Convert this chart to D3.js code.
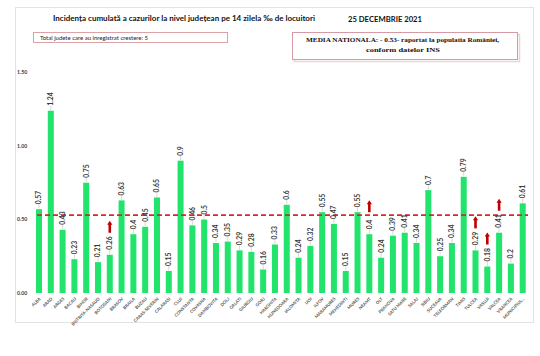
<!DOCTYPE html>
<html><head><meta charset="utf-8">
<script src="https://cdn.jsdelivr.net/npm/d3@7"></script>
<style>html,body{margin:0;padding:0;background:#fff;}svg{display:block;}</style>
</head><body>
<script>
const counties = ["ALBA","ARAD","ARGES","BACAU","BIHOR","BISTRITA-NASAUD","BOTOSANI","BRASOV","BRAILA","BUZAU","CARAS-SEVERIN","CALARASI","CLUJ","CONSTANTA","COVASNA","DAMBOVITA","DOLJ","GALATI","GIURGIU","GORJ","HARGHITA","HUNEDOARA","IALOMITA","IASI","ILFOV","MARAMURES","MEHEDINTI","MURES","NEAMT","OLT","PRAHOVA","SATU MARE","SALAJ","SIBIU","SUCEAVA","TELEORMAN","TIMIS","TULCEA","VASLUI","VALCEA","VRANCEA","MUNICIPIUL..."];
const values = [0.57,1.24,0.43,0.23,0.75,0.21,0.26,0.63,0.4,0.45,0.65,0.15,0.9,0.46,0.5,0.34,0.35,0.29,0.28,0.16,0.33,0.6,0.24,0.32,0.55,0.47,0.15,0.55,0.4,0.24,0.39,0.41,0.34,0.7,0.25,0.34,0.79,0.29,0.18,0.41,0.2,0.61];
const labels = ["0.57","1.24","0.43","0.23","0.75","0.21","0.26","0.63","0.4","0.45","0.65","0.15","0.9","0.46","0.5","0.34","0.35","0.29","0.28","0.16","0.33","0.6","0.24","0.32","0.55","0.47","0.15","0.55","0.4","0.24","0.39","0.41","0.34","0.7","0.25","0.34","0.79","0.29","0.18","0.41","0.2","0.61"];
const increased = ["BOTOSANI","NEAMT","TULCEA","VASLUI","VALCEA"];
const nationalAverage = 0.53;
const yTicks = [0, 0.5, 1.0, 1.5];
const title = "Incidența cumulată a cazurilor la nivel județean pe 14 zilela ‰ de locuitori";
const dateText = "25 DECEMBRIE 2021";
const boxLeftText = "Total judete care au inregistrat crestere: 5";
const boxRightLines = ["MEDIA NATIONALA:  - 0.53-  raportat la populatia României,", "conform datelor INS"];

const W = 540, H = 356;
const svg = d3.select("body").append("svg").attr("width", W).attr("height", H);
const font = "Lato, 'Open Sans', sans-serif";

// frame
svg.append("rect").attr("x", 15.5).attr("y", 7.5).attr("width", 518).attr("height", 315)
  .attr("fill", "#fff").attr("stroke", "#e3e3e3").attr("stroke-width", 1);

const x = d3.scaleBand().domain(counties).range([33.1, 528.6]).paddingInner(0.49).paddingOuter(0.245);
const y = d3.scaleLinear().domain([0, 1.5]).range([293, 72.5]);

// title
svg.append("text").attr("x", 53).attr("y", 21).attr("font-family", font).attr("font-weight", "bold")
  .attr("font-size", 8.2).attr("fill", "#111").attr("textLength", 262).attr("lengthAdjust", "spacingAndGlyphs").text(title);
svg.append("text").attr("x", 348).attr("y", 22).attr("font-family", font).attr("font-weight", "bold")
  .attr("font-size", 8.2).attr("fill", "#111").attr("textLength", 74).attr("lengthAdjust", "spacingAndGlyphs").text(dateText);

// left box
svg.append("rect").attr("x", 33.5).attr("y", 32.5).attr("width", 194).attr("height", 10)
  .attr("fill", "#fff").attr("stroke", "#d9a3a8").attr("stroke-width", 1);
svg.append("text").attr("x", 40).attr("y", 39.6).attr("font-family", font).attr("font-size", 5.2)
  .attr("fill", "#222").attr("textLength", 108).attr("lengthAdjust", "spacingAndGlyphs").text(boxLeftText);

// right box
svg.append("rect").attr("x", 294.5).attr("y", 34.5).attr("width", 225).attr("height", 27)
  .attr("fill", "none").attr("stroke", "#ecd3d6").attr("stroke-width", 1.5);
svg.append("rect").attr("x", 292.5).attr("y", 32.5).attr("width", 225).attr("height", 27)
  .attr("fill", "#fff").attr("stroke", "#d69aa2").attr("stroke-width", 1);
svg.append("text").attr("x", 306).attr("y", 41.5).attr("font-family", "'Liberation Serif', serif").attr("font-weight", "bold")
  .attr("font-size", 6.6).attr("fill", "#111").attr("textLength", 193).attr("lengthAdjust", "spacingAndGlyphs").text(boxRightLines[0]);
svg.append("text").attr("x", 366).attr("y", 51.5).attr("font-family", "'Liberation Serif', serif").attr("font-weight", "bold")
  .attr("font-size", 6.6).attr("fill", "#111").attr("textLength", 74).attr("lengthAdjust", "spacingAndGlyphs").text(boxRightLines[1]);

// y tick labels
svg.append("g").selectAll("text").data(yTicks).join("text")
  .attr("x", 17).attr("y", d => y(d)).attr("dy", "0.35em")
  .attr("font-family", font).attr("font-weight", "bold").attr("font-size", 5.2).attr("fill", "#404040")
  .text(d => d3.format(".2f")(d));

// bars
const data = counties.map((c, i) => ({c, v: values[i], l: labels[i]}));
svg.append("g").selectAll("rect").data(data).join("rect")
  .attr("x", d => x(d.c)).attr("width", x.bandwidth())
  .attr("y", d => y(d.v)).attr("height", d => y(0) - y(d.v))
  .attr("fill", "#22e46c");

// average dashed line
svg.append("line").attr("x1", 37).attr("x2", 528).attr("y1", y(nationalAverage)).attr("y2", y(nationalAverage))
  .attr("stroke", "#d42a2a").attr("stroke-width", 1.6).attr("stroke-dasharray", "5,3");

// leader lines
const gap = 5;
svg.append("g").selectAll("line").data(data).join("line")
  .attr("x1", d => x(d.c) + x.bandwidth() / 2).attr("x2", d => x(d.c) + x.bandwidth() / 2)
  .attr("y1", d => y(d.v) - 0.5).attr("y2", d => y(d.v) - gap)
  .attr("stroke", "#b0b0b0").attr("stroke-width", 0.5);

// value labels
svg.append("g").selectAll("text").data(data).join("text")
  .attr("transform", d => `translate(${x(d.c) + x.bandwidth() / 2},${y(d.v) - gap}) rotate(-90)`)
  .attr("dy", "0.35em").attr("text-anchor", "start")
  .attr("font-family", font).attr("font-weight", "bold").attr("font-size", 6.8).attr("fill", "#3a3a3a")
  .text(d => d.l);

// arrows
const arrowG = svg.append("g");
data.filter(d => increased.includes(d.c)).forEach(d => {
  const cx = x(d.c) + x.bandwidth() / 2;
  const bottom = y(d.v) - 22;
  const top = bottom - 12;
  arrowG.append("line").attr("x1", cx).attr("x2", cx).attr("y1", bottom).attr("y2", top + 3)
    .attr("stroke", "#c00000").attr("stroke-width", 2.6);
  arrowG.append("path").attr("d", `M${cx - 2.6},${top + 4} L${cx},${top} L${cx + 2.6},${top + 4} Z`)
    .attr("fill", "#c00000");
});

// x labels
svg.append("g").selectAll("text").data(counties).join("text")
  .attr("transform", d => `translate(${x(d) + x.bandwidth() / 2 + 1},${298}) rotate(-45)`)
  .attr("text-anchor", "end").attr("dy", "0.35em")
  .attr("font-family", font).attr("font-weight", "bold").attr("font-size", 4.3).attr("fill", "#555")
  .text(d => d);
</script>
</body></html>
